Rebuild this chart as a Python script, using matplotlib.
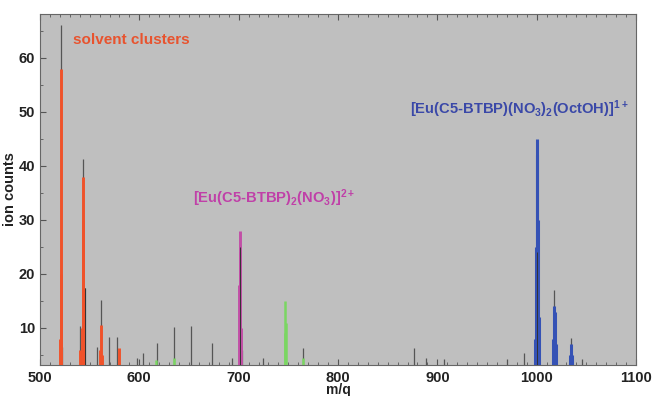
import matplotlib
matplotlib.use('Agg')
import matplotlib.pyplot as plt
from matplotlib.ticker import MultipleLocator

# background stick spectrum (gray, drawn behind coloured peaks)
back_mz = [521, 522, 540, 543, 545, 557, 561, 569, 578, 598, 604, 618, 635, 652,
           673, 693, 703, 725, 765, 877, 889, 907, 970, 987, 1017, 1035, 1046]
back_int = [66, 6.5, 10.3, 41.3, 17.4, 6.5, 15.2, 8.3, 8.3, 4.4, 5.4, 7.2, 10.2, 10.4,
            7.2, 4.4, 6, 4.4, 6.3, 6.3, 4.4, 4.2, 4.3, 5.4, 17, 8.1, 4.3]
# dark sticks drawn on top of coloured peaks
front_mz = [545, 701, 1000.5]
front_int = [17.4, 25, 24]

# coloured isotope clusters
solvent_mz = [520.5, 521, 521.5, 540, 542.5, 543, 543.5, 544, 560, 561, 562, 580]
solvent_int = [8, 58, 20, 6, 10, 38, 30, 14, 6, 10.5, 5, 6.3]
pink_mz = [700.5, 701, 701.5, 702]
pink_int = [18, 28, 24, 10]
green_mz = [617, 635, 746.5, 747, 747.5, 765]
green_int = [4, 4.5, 9, 15, 11, 4.5]
blue_mz = [998.5, 999.5, 1000, 1000.5, 1001, 1002, 1016, 1017, 1018, 1019, 1034, 1035, 1036]
blue_int = [8, 25, 45, 42, 30, 12, 8, 14, 13, 7, 5, 7, 5]

x_ticks = [500, 600, 700, 800, 900, 1000, 1100]
y_ticks = [10, 20, 30, 40, 50, 60]

plt.rcParams['font.family'] = ['Liberation Sans', 'DejaVu Sans']
plt.rcParams['mathtext.fontset'] = 'custom'
plt.rcParams['mathtext.rm'] = 'Liberation Sans:bold'
plt.rcParams['mathtext.bf'] = 'Liberation Sans:bold'
plt.rcParams['mathtext.default'] = 'bf'

fig = plt.figure(figsize=(6.52, 3.96), dpi=100)
ax = fig.add_axes([0.0613, 0.0783, 0.9142, 0.8863])
ax.set_facecolor('#bfbfbf')

ax.vlines(back_mz, 0, back_int, color='#555555', lw=0.9, zorder=2)
ax.vlines(solvent_mz, 0, solvent_int, color='#f0522a', lw=2.1, zorder=3)
ax.vlines(pink_mz, 0, pink_int, color='#c24fa6', lw=2.1, zorder=3)
ax.vlines(green_mz, 0, green_int, color='#7ad662', lw=1.8, zorder=3)
ax.vlines(blue_mz, 0, blue_int, color='#3552b5', lw=2.2, zorder=3)
ax.vlines(front_mz, 0, front_int, color='#333333', lw=0.7, zorder=4)

ax.set_xlim(500, 1100)
ax.set_ylim(3.15, 68.1)
ax.set_xticks(x_ticks)
ax.set_yticks(y_ticks)
ax.xaxis.set_minor_locator(MultipleLocator(10))
ax.yaxis.set_minor_locator(MultipleLocator(5))
ax.tick_params(which='both', direction='in', top=True, right=False,
               color='#555555', labelsize=10.5)
ax.tick_params(which='major', length=4)
ax.tick_params(which='minor', length=2.5)
for lab in ax.get_xticklabels() + ax.get_yticklabels():
    lab.set_fontweight('bold')
    lab.set_color('#222222')
ax.tick_params(axis='x', pad=4)
for s in ax.spines.values():
    s.set_color('#666666')
    s.set_linewidth(0.8)

ax.set_xlabel('m/q', fontsize=10, fontweight='bold', labelpad=-1, color='#222222')
ax.set_ylabel('ion counts', fontsize=10.5, fontweight='bold', labelpad=1, color='#222222')

ax.text(533, 63.3, 'solvent clusters', color='#e8532e', fontsize=11,
        fontweight='bold', va='center', ha='left')
ax.text(654, 34.1, r'[Eu(C5-BTBP)$_2$(NO$_3$)]$^{2+}$', color='#c040a8', fontsize=10.6,
        fontweight='bold', va='center', ha='left')
ax.text(872.6, 50.4, r'[Eu(C5-BTBP)(NO$_3$)$_2$(OctOH)]$^{1+}$', color='#3a48a8',
        fontsize=10.6, fontweight='bold', va='center', ha='left')

fig.savefig('out.png', dpi=100)
